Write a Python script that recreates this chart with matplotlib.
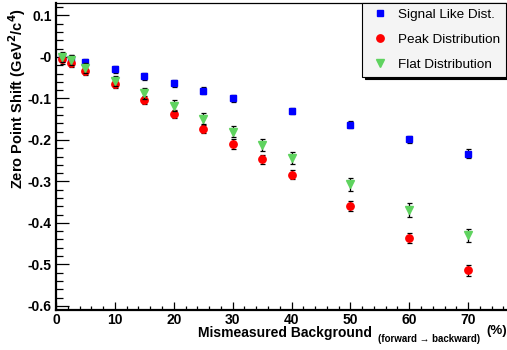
import matplotlib
matplotlib.use('Agg')
import matplotlib.pyplot as plt
from matplotlib.ticker import MultipleLocator, FixedLocator, FixedFormatter

plt.rcParams['font.family'] = ['Liberation Sans', 'DejaVu Sans']

# signal like distribution
x_sig = [1, 2.5, 5, 10, 15, 20, 25, 30, 40, 50, 60, 70]
y_sig = [-0.001, -0.004, -0.013, -0.030, -0.047, -0.064, -0.081, -0.100, -0.130, -0.163, -0.199, -0.233]
e_sig = [0.008, 0.008, 0.008, 0.008, 0.008, 0.008, 0.008, 0.008, 0.008, 0.009, 0.009, 0.010]

# peak / flat distributions
x_pk = [1, 2.5, 5, 10, 15, 20, 25, 30, 35, 40, 50, 60, 70]
y_pk = [-0.006, -0.015, -0.033, -0.066, -0.104, -0.138, -0.174, -0.210, -0.247, -0.284, -0.360, -0.437, -0.514]
e_pk = [0.010, 0.010, 0.010, 0.010, 0.010, 0.010, 0.010, 0.011, 0.011, 0.011, 0.012, 0.012, 0.013]
y_flat = [0.0, -0.007, -0.026, -0.057, -0.088, -0.118, -0.149, -0.180, -0.212, -0.244, -0.307, -0.369, -0.430]
e_flat = [0.012, 0.012, 0.012, 0.012, 0.013, 0.013, 0.013, 0.014, 0.014, 0.014, 0.015, 0.016, 0.016]

names = ['Signal Like Dist.', 'Peak Distribution', 'Flat Distribution']
yticks = [-0.6, -0.5, -0.4, -0.3, -0.2, -0.1, 0.0, 0.1]
ylabels = ['-0.6', '-0.5', '-0.4', '-0.3', '-0.2', '-0.1', '-0', '0.1']

W, H = 507, 350
fig = plt.figure(figsize=(W/100, H/100), dpi=100)
ax = fig.add_axes([56/W, 1-310/H, (W-56)/W, 307/H])

eb_kw = dict(ecolor='black', elinewidth=0.9, capsize=1.8, capthick=0.9)
h1 = ax.errorbar(x_sig, y_sig, yerr=e_sig, fmt='s', color='#0000ff', ms=4.8, mec='#0000ff',
                 zorder=3, **eb_kw)
h2 = ax.errorbar(x_pk, y_pk, yerr=e_pk, fmt='o', color='#ff0000', ms=5.3, mec='#ff0000',
                 zorder=4, **eb_kw)
h3 = ax.errorbar(x_pk, y_flat, yerr=e_flat, fmt='v', color='#5fd35f', ms=5.6, mec='#5fd35f',
                 zorder=5, **eb_kw)

ax.set_xlim(0, 76.6)
ax.set_ylim(-0.61, 0.13)

ax.xaxis.set_major_locator(MultipleLocator(10))
ax.xaxis.set_minor_locator(MultipleLocator(2))
ax.yaxis.set_major_locator(FixedLocator(yticks))
ax.yaxis.set_major_formatter(FixedFormatter(ylabels))
ax.yaxis.set_minor_locator(MultipleLocator(0.02))

ax.tick_params(axis='y', which='major', direction='in', length=9.5, width=0.9, pad=3,
               labelsize=10, right=False)
ax.tick_params(axis='y', which='minor', direction='in', length=5, width=0.9, right=False)
ax.tick_params(axis='x', which='major', direction='in', length=6, width=0.9, pad=2,
               labelsize=10, top=False)
ax.tick_params(axis='x', which='minor', direction='in', length=3, width=0.9, top=False)
for lab in ax.get_xticklabels() + ax.get_yticklabels():
    lab.set_fontweight('bold')

ax.spines['left'].set_linewidth(1.6)
ax.spines['bottom'].set_linewidth(1.6)
ax.spines['top'].set_linewidth(0.9)
ax.spines['right'].set_visible(False)

fig.text(17/W, 1-8/H, 'Zero Point Shift (GeV$^{\\mathbf{2}}$/c$^{\\mathbf{4}}$)', rotation=90,
         ha='center', va='top', fontsize=10.5, fontweight='bold')
fig.text(198/W, 1-337/H, 'Mismeasured Background', ha='left', va='baseline',
         fontsize=10, fontweight='bold')
fig.text(378/W, 1-342/H, '(forward \u2192 backward)', ha='left', va='baseline',
         fontsize=7, fontweight='bold')
fig.text(486/W, 1-331/H, '(%)', ha='left', va='center', fontsize=9.5, fontweight='bold')

leg = ax.legend([h1[0], h2[0], h3[0]], names, loc='upper left',
                bbox_to_anchor=(362/W, 1-3/H), bbox_transform=fig.transFigure,
                fontsize=9.7, borderpad=0.42, borderaxespad=0, handlelength=1.9,
                handletextpad=0.37, labelspacing=0.93, fancybox=False, framealpha=1,
                shadow={'color': 'black', 'alpha': 1})
leg.get_frame().set_facecolor('#f4f4f4')
leg.get_frame().set_edgecolor('black')
leg.get_frame().set_linewidth(0.8)

plt.savefig('out.png', dpi=100)
